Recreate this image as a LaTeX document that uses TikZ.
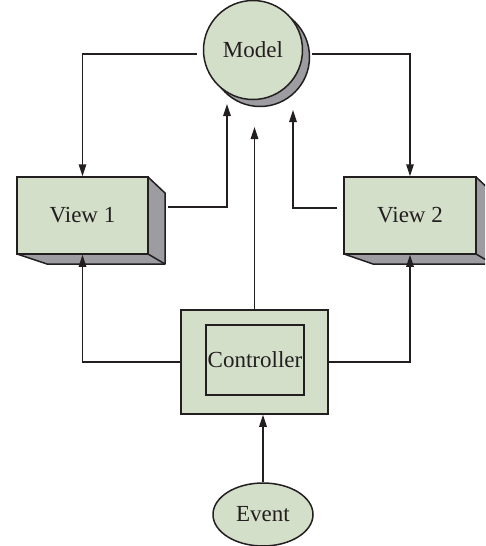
\documentclass[tikz,border=0pt]{standalone}
\usepackage{fontspec}
\setmainfont{Liberation Serif}
\usetikzlibrary{arrows.meta,shapes.geometric}
\definecolor{boxgreen}{HTML}{D3DFC8}
\definecolor{shadegray}{HTML}{9C9CA1}
\definecolor{ink}{HTML}{231F20}
\tikzset{
  base/.style={draw=ink, line width=1.5pt, fill=boxgreen, inner sep=0pt,
    font=\fontsize{23}{27}\selectfont, text=ink},
  viewbox/.style={base, rectangle, minimum width=131pt, minimum height=77pt},
  ctrlbox/.style={base, rectangle, minimum width=147pt, minimum height=104pt},
  innerbox/.style={base, rectangle, minimum width=98pt, minimum height=70pt},
  modelnode/.style={base, circle, minimum size=99pt},
  eventnode/.style={base, ellipse, minimum width=100pt, minimum height=63pt},
  shade/.style={draw=ink, line width=1.5pt, fill=shadegray, line join=round},
  arr/.style={draw=ink, line width=1.5pt, -{Triangle[length=12pt,width=7.5pt]}},
  plain/.style={draw=ink, line width=1.5pt},
}
\begin{document}
\begin{tikzpicture}[x=1pt,y=-1pt]
\useasboundingbox (0,0) rectangle (485,546);
\clip (0,0) rectangle (485,546);
% Model with shadow
\fill[shade] (260,57) circle (49.5pt);
\node[modelnode] (m) at (253,50) {Model};
% View 1
\coordinate (v1ne) at (148,177);
\coordinate (v1se) at (148,254);
\coordinate (v1sw) at (17,254);
\filldraw[shade] (v1ne) -- ++(17,16) -- ++(0,71) -- ++(-118,0) -- (v1sw) -- cycle;
\draw[plain] (v1se) -- ++(17,10);
\node[viewbox] (v1) at (82.5,215.5) {View 1};
% View 2
\coordinate (v2ne) at (476,177);
\coordinate (v2se) at (476,254);
\coordinate (v2sw) at (344,254);
\filldraw[shade] (v2ne) -- ++(17,16) -- ++(0,71) -- ++(-120,0) -- (v2sw) -- cycle;
\draw[plain] (v2se) -- ++(17,10);
\node[viewbox, minimum width=132pt] (v2) at (410,215.5) {View 2};
% Controller
\node[ctrlbox] (ctrl) at (254.5,362) {};
\node[innerbox] (inner) at (255,360) {Controller};
% Event
\node[eventnode] (ev) at (263,514.5) {Event};
% free ends of arrows toward the model
\coordinate (t1) at (227,104);
\coordinate (t2) at (293,110);
\coordinate (tc) at (254.5,127);
% connectors
\draw[arr] ([shift={(-6,4)}]m.west) -| (v1.north);
\draw[arr] ([shift={(9,4)}]m.east) -| (v2.north);
\draw[arr] ([shift={(19,-8.5)}]v1.east) -| (t1);
\draw[arr] ([shift={(-6,-7.5)}]v2.west) -| (t2);
\draw[arr] (ctrl.north) -- (tc);
\draw[arr] (ctrl.west) -| (v1.south);
\draw[arr] (ctrl.east) -| (v2.south);
\draw[arr] (ev.north) -- (ev.north |- ctrl.south);
\end{tikzpicture}
\end{document}
